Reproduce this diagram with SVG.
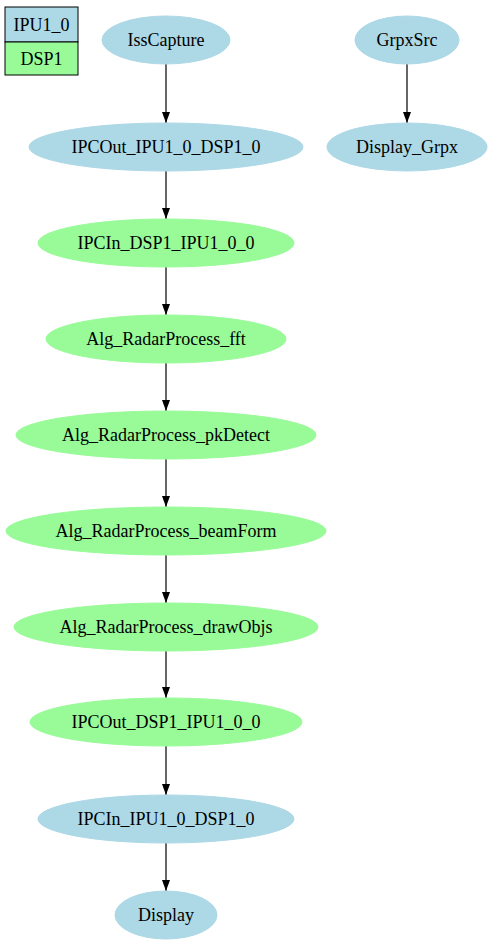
<svg xmlns="http://www.w3.org/2000/svg" width="492" height="944" viewBox="0 0 492 944">
<defs>
<marker id="ah" markerWidth="11" markerHeight="8" refX="11" refY="4" orient="auto" markerUnits="userSpaceOnUse">
<path d="M0,0 L11,4 L0,8 Z" fill="#000"/>
</marker>
<style>
.b{fill:#add8e6;stroke:#add8e6}
.g{fill:#98fb98;stroke:#98fb98}
text{font-family:"Liberation Serif","Times New Roman",serif;font-size:18px;fill:#000;text-anchor:middle;dominant-baseline:central}
.e{stroke:#000;stroke-width:1.2;fill:none;marker-end:url(#ah)}
</style>
</defs>
<rect width="492" height="944" fill="#fff"/>
<g id="legend">
<rect x="5" y="7" width="73" height="35" fill="#add8e6" stroke="#000"/>
<text x="41.5" y="24.5">IPU1_0</text>
<rect x="5" y="42" width="73" height="33" fill="#98fb98" stroke="#000"/>
<text x="41.5" y="58.5">DSP1</text>
</g>
<g id="edges">
<line class="e" x1="166" y1="64" x2="166" y2="123"/>
<line class="e" x1="166" y1="171" x2="166" y2="219"/>
<line class="e" x1="166" y1="267" x2="166" y2="315"/>
<line class="e" x1="166" y1="363" x2="166" y2="411"/>
<line class="e" x1="166" y1="459" x2="166" y2="507"/>
<line class="e" x1="166" y1="555" x2="166" y2="603"/>
<line class="e" x1="166" y1="651" x2="166" y2="698"/>
<line class="e" x1="166" y1="746" x2="166" y2="795"/>
<line class="e" x1="166" y1="843" x2="166" y2="891"/>
<line class="e" x1="407" y1="64" x2="407" y2="123"/>
</g>
<g id="IssCapture"><ellipse class="b" cx="166" cy="40" rx="64" ry="24"/><text x="166" y="40">IssCapture</text></g>
<g id="IPCOut_IPU1_0_DSP1_0"><ellipse class="b" cx="166" cy="147" rx="137" ry="24"/><text x="166" y="147">IPCOut_IPU1_0_DSP1_0</text></g>
<g id="IPCIn_DSP1_IPU1_0_0"><ellipse class="g" cx="166" cy="243" rx="128" ry="24"/><text x="166" y="243">IPCIn_DSP1_IPU1_0_0</text></g>
<g id="Alg_RadarProcess_fft"><ellipse class="g" cx="166" cy="339" rx="120" ry="24"/><text x="166" y="339">Alg_RadarProcess_fft</text></g>
<g id="Alg_RadarProcess_pkDetect"><ellipse class="g" cx="166" cy="435" rx="150" ry="24"/><text x="166" y="435">Alg_RadarProcess_pkDetect</text></g>
<g id="Alg_RadarProcess_beamForm"><ellipse class="g" cx="166" cy="531" rx="160" ry="24"/><text x="166" y="531">Alg_RadarProcess_beamForm</text></g>
<g id="Alg_RadarProcess_drawObjs"><ellipse class="g" cx="166" cy="627" rx="152" ry="24"/><text x="166" y="627">Alg_RadarProcess_drawObjs</text></g>
<g id="IPCOut_DSP1_IPU1_0_0"><ellipse class="g" cx="166" cy="722" rx="136" ry="24"/><text x="166" y="722">IPCOut_DSP1_IPU1_0_0</text></g>
<g id="IPCIn_IPU1_0_DSP1_0"><ellipse class="b" cx="166" cy="819" rx="128" ry="24"/><text x="166" y="819">IPCIn_IPU1_0_DSP1_0</text></g>
<g id="Display"><ellipse class="b" cx="166" cy="915" rx="51" ry="24"/><text x="166" y="915">Display</text></g>
<g id="GrpxSrc"><ellipse class="b" cx="407" cy="40" rx="52" ry="24"/><text x="407" y="40">GrpxSrc</text></g>
<g id="Display_Grpx"><ellipse class="b" cx="407" cy="147" rx="80" ry="24"/><text x="407" y="147">Display_Grpx</text></g>
</svg>
